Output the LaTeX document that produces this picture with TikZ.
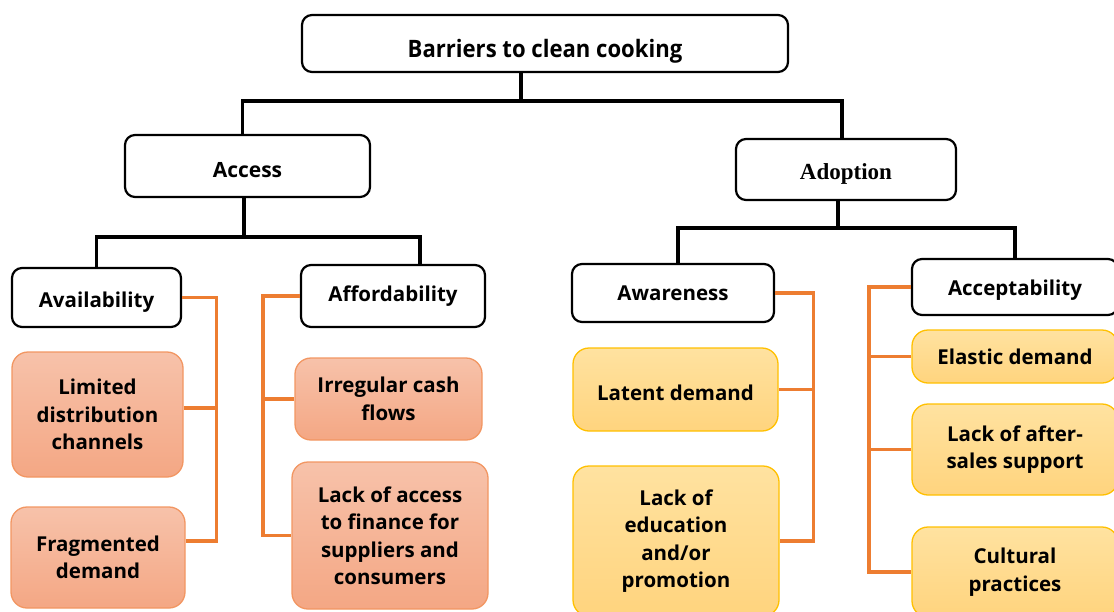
\documentclass[tikz,border=0pt]{standalone}
\usepackage{fontspec}
\setmainfont{Open Sans}
\newfontfamily\headfont{Open Sans}[FakeStretch=0.92]
\newfontfamily\serifhead{Liberation Serif}
\usetikzlibrary{positioning}

\definecolor{railorange}{RGB}{237,125,49}
\definecolor{peachtop}{RGB}{247,194,170}
\definecolor{peachbot}{RGB}{244,167,132}
\definecolor{peachedge}{RGB}{242,150,98}
\definecolor{sandtop}{RGB}{255,226,160}
\definecolor{sandbot}{RGB}{255,212,126}
\definecolor{sandedge}{RGB}{255,192,0}

\tikzstyle{lvl}=[draw=black, line width=2.2pt, rounded corners=10pt, fill=white,
                 align=center, inner sep=0pt,
                 font=\bfseries\fontsize{20.5}{27}\selectfont]
\tikzstyle{peach}=[draw=peachedge, line width=1.3pt, rounded corners=16pt,
                   top color=peachtop, bottom color=peachbot, align=center,
                   inner sep=0pt, font=\bfseries\fontsize{20.5}{27.5}\selectfont]
\tikzstyle{sand}=[peach, draw=sandedge, top color=sandtop, bottom color=sandbot]
\tikzstyle{sunk}=[text depth=0pt, text height=#1]
\tikzstyle{tree}=[line width=3.6pt]
\tikzstyle{rail}=[draw=railorange, line width=3.2pt]

\begin{document}
\begin{tikzpicture}[x=1pt, y=-1pt]
\clip (0,0) rectangle (1114,611);

% top of the tree
\node[lvl, sunk=27pt, minimum width=486, minimum height=57, font=\headfont\bfseries\fontsize{24}{28}\selectfont]
  at (545,43.5) (root) {Barriers to clean cooking};
\node[lvl, sunk=22pt, minimum width=245, minimum height=62, font=\bfseries\fontsize{21}{25}\selectfont]
  at (247.5,166) (access) {Access};
\node[lvl, sunk=19pt, minimum width=220, minimum height=61, font=\serifhead\bfseries\fontsize{23}{27}\selectfont]
  at (846,169.5) (adopt) {Adoption};

% second level
\node[lvl, sunk=20pt, minimum width=169, minimum height=59] at (96.5,297.5) (avail) {Availability};
\node[lvl, minimum width=184, minimum height=62] at (393,296) (afford) {Affordability};
\node[lvl, minimum width=202, minimum height=58] at (673,293) (aware) {Awareness};
\node[lvl, sunk=16pt, minimum width=206, minimum height=56] at (1015,287) (accept) {Acceptability};

% barriers under access
\node[peach, minimum width=171, minimum height=125] at (97.5,414.5) (limited) {Limited\\distribution\\channels};
\node[peach, minimum width=174, minimum height=101] at (98,557.5) (frag) {Fragmented\\demand};
\node[peach, minimum width=187, minimum height=82] at (388.5,399) (irregular) {Irregular cash\\flows};
\node[peach, minimum width=196, minimum height=147] at (390,535.5) (finance) {Lack of access\\to finance for\\suppliers and\\consumers};

% barriers under adoption
\node[sand, sunk=21pt, minimum width=205, minimum height=83] at (675.5,389.5) (latent) {Latent demand};
\node[sand, minimum width=206, minimum height=150] at (676,541) (educ) {Lack of\\education\\and/or\\promotion};
\node[sand, minimum width=206, minimum height=53] at (1015,356.5) (elastic) {Elastic demand};
\node[sand, minimum width=206, minimum height=91] at (1015,449.5) (aftersales) {Lack of after-\\sales support};
\node[sand, minimum width=206, minimum height=90] at (1015,572) (cultural) {Cultural\\practices};

% black tree
\coordinate (rootbus) at (521,101);
\coordinate (accbus) at (244,237);
\coordinate (adoptbus) at (838,228);
\draw[tree] (root.south -| rootbus) -- (rootbus);
\draw[tree] ([xshift=-5pt]access.north) |- (rootbus) -| ([xshift=-4pt]adopt.north);
\draw[tree] (access.south -| accbus) -- (accbus);
\draw[tree] (avail.north) |- (accbus) -| ([xshift=27pt]afford.north);
\draw[tree] (adopt.south -| adoptbus) -- (adoptbus);
\draw[tree] ([xshift=5pt]aware.north) |- (adoptbus) -| (accept.north);

% orange brackets
\coordinate (railA) at ([xshift=34pt]avail.east);
\coordinate (limitedin) at ([yshift=6.5pt]limited.east);
\coordinate (fragin) at ([yshift=16.5pt]frag.east);
\draw[rail] (avail.east) -| (railA |- fragin) -- (fragin);
\draw[rail] (limitedin) -- (limitedin -| railA);

\coordinate (railB) at ([xshift=-37pt]afford.west);
\draw[rail] (afford.west) -| (railB |- finance.west) -- (finance.west);
\foreach \n in {irregular}
  \draw[rail] (\n.west) -- (\n.west -| railB);

\coordinate (railC) at ([xshift=38pt]aware.east);
\draw[rail] (aware.east) -| (railC |- educ.east) -- (educ.east);
\foreach \n in {latent}
  \draw[rail] (\n.east) -- (\n.east -| railC);

\coordinate (railD) at ([xshift=-42pt]accept.west);
\draw[rail] (accept.west) -| (railD |- cultural.west) -- (cultural.west);
\foreach \n in {elastic,aftersales}
  \draw[rail] (\n.west) -- (\n.west -| railD);
\end{tikzpicture}
\end{document}
